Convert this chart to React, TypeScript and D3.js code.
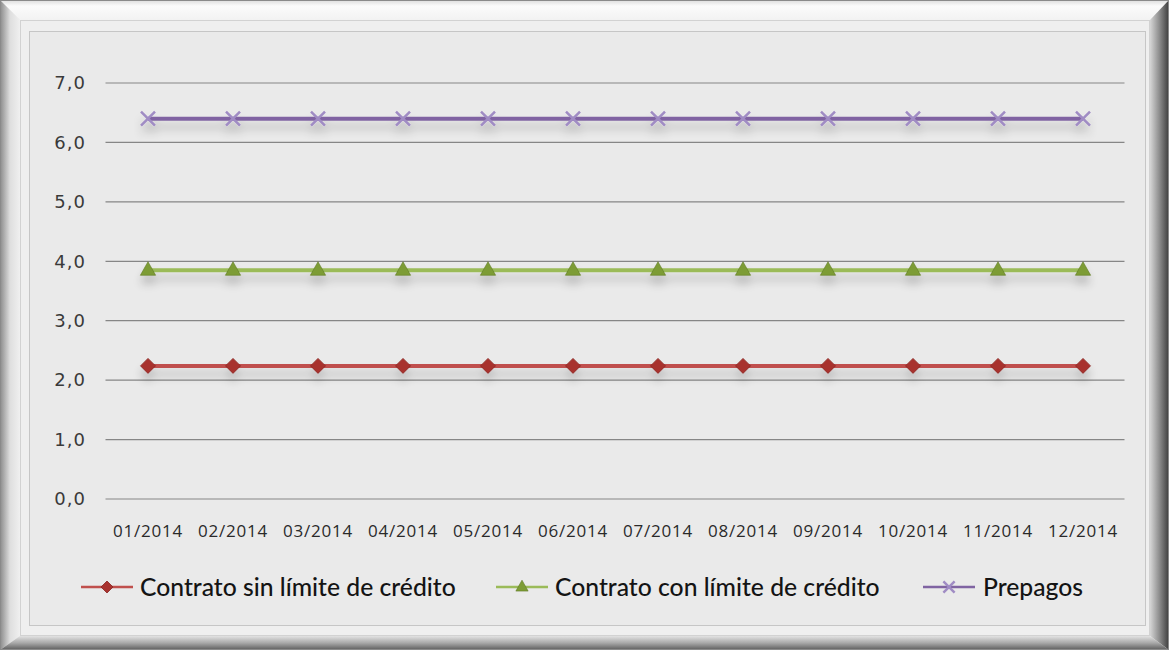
import React from "react";
import * as d3 from "d3";

const categories = ["01/2014","02/2014","03/2014","04/2014","05/2014","06/2014","07/2014","08/2014","09/2014","10/2014","11/2014","12/2014"];
const sinLimite = [2.24,2.24,2.24,2.24,2.24,2.24,2.24,2.24,2.24,2.24,2.24,2.24];
const conLimite = [3.85,3.85,3.85,3.85,3.85,3.85,3.85,3.85,3.85,3.85,3.85,3.85];
const prepagos = [6.4,6.4,6.4,6.4,6.4,6.4,6.4,6.4,6.4,6.4,6.4,6.4];
const yTicks = [0,1,2,3,4,5,6,7];
const seriesNames = ["Contrato sin límite de crédito","Contrato con límite de crédito","Prepagos"];

const W = 1169, H = 650;
const plot = { left: 105.5, right: 1125.5, top: 83, bottom: 499 };

export default function App() {
  const x = d3.scaleBand<string>().domain(categories).range([plot.left, plot.right]);
  const y = d3.scaleLinear().domain([0, 7]).range([plot.bottom, plot.top]);
  const cx = (c: string) => (x(c) as number) + x.bandwidth() / 2;
  const line = d3.line<[number, number]>().x(d => d[0]).y(d => d[1]);

  const series = [
    { name: seriesNames[0], values: sinLimite, color: "#c0504d", marker: "diamond", mfill: "#a8332f" },
    { name: seriesNames[1], values: conLimite, color: "#9bbb59", marker: "triangle", mfill: "#7d9c35" },
    { name: seriesNames[2], values: prepagos, color: "#8064a2", marker: "x", mfill: "#a08cc4" },
  ];

  const marker = (type: string, px: number, py: number, fill: string, key: any, s = 1) => {
    if (type === "diamond") {
      const r = 7.5 * s;
      return <path key={key} d={`M${px},${py - r}L${px + r},${py}L${px},${py + r}L${px - r},${py}Z`} fill={fill} stroke="#8a2522" strokeWidth={0.8} />;
    }
    if (type === "triangle") {
      const r = 8.5 * s;
      return <path key={key} d={`M${px},${py - r}L${px + r * 0.9},${py + r * 0.6}L${px - r * 0.9},${py + r * 0.6}Z`} fill={fill} stroke="#5f7a25" strokeWidth={0.6} />;
    }
    const r = 7 * s;
    return <path key={key} d={`M${px - r},${py - r}L${px + r},${py + r}M${px + r},${py - r}L${px - r},${py + r}`} stroke={fill} strokeWidth={2.5} fill="none" />;
  };

  const legendItems = [
    { lx: 81, tx: 140 },
    { lx: 496, tx: 555 },
    { lx: 923, tx: 983 },
  ];

  // frame geometry
  const o = { l: 0, t: 0, r: W, b: H };
  const m = { l: 20, t: 20, r: 1150, b: 636 };
  const p = { l: 29, t: 31, r: 1146, b: 626 };

  return (
    <svg width={W} height={H} style={{ position: "absolute", left: 0, top: 0, display: "block" }} fontFamily="Lato, 'Open Sans', sans-serif">
      <defs>
        <linearGradient id="topB" x1="0" y1="0" x2="0" y2="1">
          <stop offset="0" stopColor="#dcdcdc" />
          <stop offset="0.3" stopColor="#fbfbfb" />
          <stop offset="1" stopColor="#f2f2f2" />
        </linearGradient>
        <linearGradient id="leftB" x1="0" y1="0" x2="1" y2="0">
          <stop offset="0" stopColor="#8a8a8a" />
          <stop offset="0.5" stopColor="#dedede" />
          <stop offset="1" stopColor="#f0f0f0" />
        </linearGradient>
        <linearGradient id="rightB" x1="0" y1="0" x2="1" y2="0">
          <stop offset="0" stopColor="#d6d6d6" />
          <stop offset="0.5" stopColor="#8c8c8c" />
          <stop offset="1" stopColor="#3c3c3c" />
        </linearGradient>
        <linearGradient id="bottomB" x1="0" y1="0" x2="0" y2="1">
          <stop offset="0" stopColor="#e2e2e2" />
          <stop offset="0.5" stopColor="#a8a8a8" />
          <stop offset="1" stopColor="#5c5c5c" />
        </linearGradient>
        <filter id="shadow" x="-5%" y="-200%" width="110%" height="500%">
          <feGaussianBlur in="SourceAlpha" stdDeviation="5" />
          <feOffset dx="0" dy="8" result="b" />
          <feComponentTransfer><feFuncA type="linear" slope="0.22" /></feComponentTransfer>
          <feMerge><feMergeNode /><feMergeNode in="SourceGraphic" /></feMerge>
        </filter>
      </defs>

      {/* frame */}
      <rect x={0} y={0} width={W} height={H} fill="#ececec" />
      <polygon points={`${o.l},${o.t} ${o.r},${o.t} ${m.r},${m.t} ${m.l},${m.t}`} fill="url(#topB)" />
      <polygon points={`${o.l},${o.t} ${m.l},${m.t} ${m.l},${m.b} ${o.l},${o.b}`} fill="url(#leftB)" />
      <polygon points={`${o.r},${o.t} ${o.r},${o.b} ${m.r},${m.b} ${m.r},${m.t}`} fill="url(#rightB)" />
      <polygon points={`${o.l},${o.b} ${m.l},${m.b} ${m.r},${m.b} ${o.r},${o.b}`} fill="url(#bottomB)" />
      <rect x={m.l + 0.5} y={m.t + 0.5} width={m.r - m.l - 1} height={m.b - m.t - 1} fill="#efefef" stroke="#d2d2d2" />
      <rect x={0.5} y={0.5} width={W - 1} height={H - 1} fill="none" stroke="#8a8a8a" strokeWidth={1} />
      <rect x={p.l + 0.5} y={p.t + 0.5} width={p.r - p.l - 1} height={p.b - p.t - 1} fill="#eaeaea" stroke="#c6c6c6" strokeWidth={1} />

      {/* grid */}
      {yTicks.map(t => (
        <g key={t}>
          <line x1={plot.left} x2={plot.right - 1} y1={y(t)} y2={y(t)} stroke="#868686" strokeWidth={1.2} />
          <text x={86} y={y(t)} dy="0.35em" textAnchor="end" fontSize={18} fill="#3a3a3a" fontFamily="'DejaVu Sans', sans-serif" letterSpacing={1}>
            {d3.format(".1f")(t).replace(".", ",")}
          </text>
        </g>
      ))}

      {/* x labels */}
      {categories.map(c => (
        <text key={c} x={cx(c)} y={537} textAnchor="middle" fontSize={17} fill="#2a2a2a" fontFamily="'Open Sans', sans-serif" letterSpacing={0.8}>{c}</text>
      ))}

      {/* series */}
      {series.map((s, si) => (
        <g key={si} filter="url(#shadow)">
          <path d={line(categories.map((c, i) => [cx(c), y(s.values[i])]))!} stroke={s.color} strokeWidth={4} fill="none" />
          {categories.map((c, i) => marker(s.marker, cx(c), y(s.values[i]), s.mfill, i))}
        </g>
      ))}

      {/* legend */}
      {series.map((s, si) => {
        const it = legendItems[si];
        const ly = 587;
        return (
          <g key={si}>
            <line x1={it.lx} x2={it.lx + 52} y1={ly} y2={ly} stroke={s.color} strokeWidth={2.5} />
            {marker(s.marker, it.lx + 26, ly, s.mfill, "m", 0.8)}
            <text x={it.tx} y={ly} dy="0.36em" fontSize={24.7} fill="#141414" fontWeight={500}>{s.name}</text>
          </g>
        );
      })}
    </svg>
  );
}
